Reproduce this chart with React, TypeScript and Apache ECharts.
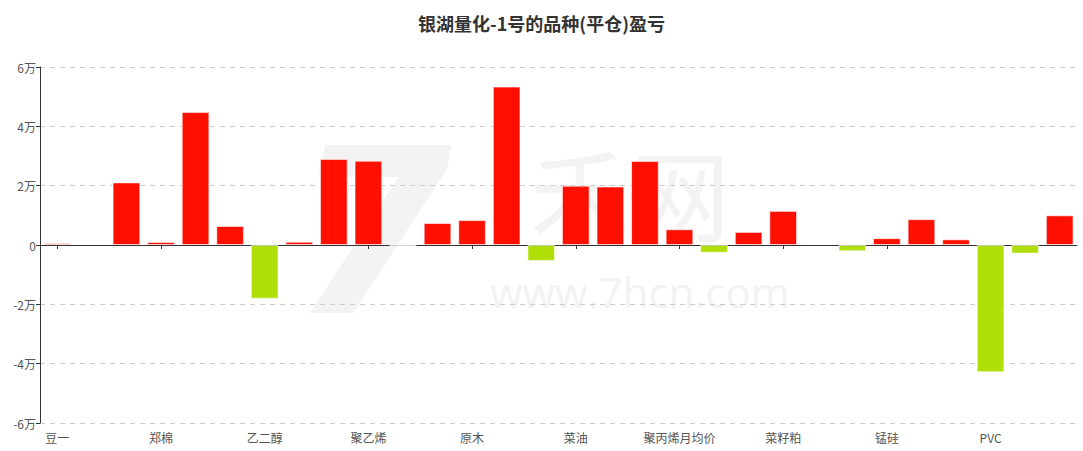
import React, { useEffect, useRef } from "react";
import * as echarts from "echarts";

const categories = [
  "豆一", "豆粕", "玉米", "郑棉", "白糖", "甲醇", "乙二醇", "苯乙烯", "螺纹钢", "聚乙烯",
  "沥青", "纯碱", "原木", "焦炭", "铁矿石", "菜油", "豆油", "棕榈油", "聚丙烯月均价", "苹果",
  "尿素", "菜籽粕", "玻璃", "硅铁", "锰硅", "热卷", "PTA", "PVC", "短纤", "橡胶",
];

const profits = [
  600, 350, 21100, 1000, 44800, 6400, -18100, 1100, 29000, 28400,
  -300, 7400, 8400, 53400, -5400, 20000, 19700, 28300, 5300, -2600,
  4400, 11500, 300, -2100, 2300, 8700, 1900, -42900, -2900, 10000,
];

const yTicks = { min: -60000, max: 60000, interval: 20000 };

const RED = "#ff0f00";
const GREEN = "#b0de09";

export default function App() {
  const ref = useRef<HTMLDivElement>(null);
  useEffect(() => {
    if (!ref.current) return;
    const chart = echarts.init(ref.current, undefined, { renderer: "svg" });
    chart.setOption({
      animation: false,
      backgroundColor: "#ffffff",
      title: {
        text: "银湖量化-1号的品种(平仓)盈亏",
        left: "center",
        top: 9,
        textStyle: { fontSize: 18, fontWeight: "bold", color: "#333333", fontFamily: "Noto Sans CJK SC" },
      },
      grid: { left: 40, right: 6, top: 67, bottom: 28, containLabel: false },
      graphic: {
        elements: [
          {
            type: "text",
            left: 292,
            top: 118,
            z: -10,
            style: { text: "7", fontSize: 230, fontWeight: "bold", fontStyle: "italic", fill: "#f3f3f3", fontFamily: "DejaVu Sans" },
          },
          {
            type: "text",
            left: 530,
            top: 140,
            z: -10,
            style: { text: "禾网", fontSize: 100, lineHeight: 100, fill: "#f3f3f3", fontFamily: "Noto Sans CJK SC" },
          },
          {
            type: "text",
            left: 490,
            top: 270,
            z: -10,
            style: { text: "www.7hcn.com", fontSize: 42, lineHeight: 42, fill: "#f2f2f2", fontFamily: "Open Sans" },
          },
        ],
      },
      xAxis: [
        {
          type: "category",
          data: categories,
          position: "bottom",
          axisLine: { onZero: true, lineStyle: { color: "#333333", width: 1 } },
          axisTick: { show: true, interval: 2, alignWithLabel: true, length: 4, lineStyle: { color: "#333333" } },
          axisLabel: { show: false, interval: 2 },
          splitLine: { show: false },
        },
        {
          type: "category",
          data: categories,
          position: "bottom",
          axisLine: { show: false, onZero: false },
          axisTick: { show: false },
          axisLabel: { interval: 2, color: "#555555", fontSize: 12, margin: 8, fontFamily: "Noto Sans CJK SC" },
          splitLine: { show: false },
        },
      ],
      yAxis: {
        type: "value",
        min: yTicks.min,
        max: yTicks.max,
        interval: yTicks.interval,
        axisLine: { show: true, lineStyle: { color: "#333333", width: 1 } },
        axisTick: { show: true, length: 4, lineStyle: { color: "#333333" } },
        axisLabel: {
          color: "#555555",
          fontSize: 12,
          margin: 4,
          fontFamily: "Noto Sans CJK SC",
          formatter: (v: number) => (v === 0 ? "0" : v / 10000 + "万"),
        },
        splitLine: { show: true, lineStyle: { color: "#cccccc", type: [5, 5], width: 1 } },
      },
      series: [
        {
          type: "bar",
          xAxisIndex: 0,
          data: profits.map((v) => ({
            value: v,
            itemStyle: { color: v >= 0 ? RED : GREEN },
          })),
          barWidth: "80%",
          itemStyle: { borderColor: "rgba(255,255,255,0.55)", borderWidth: 1 },
          z: 3,
        },
      ],
    });
    return () => chart.dispose();
  }, []);
  return <div ref={ref} style={{ width: 1083, height: 451, position: "absolute", left: 0, top: 0 }} />;
}
